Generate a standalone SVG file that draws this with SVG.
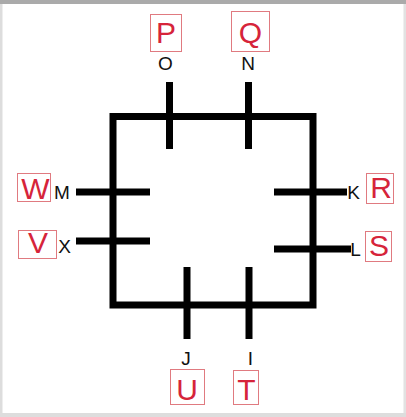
<svg xmlns="http://www.w3.org/2000/svg" width="406" height="417" viewBox="0 0 406 417">
<style>
.ln{stroke:#000;stroke-width:7;fill:none}
.bx{fill:#fff;stroke:#e07a80;stroke-width:1}
.rd{font-family:"Liberation Sans",Arial,sans-serif;font-size:30px;fill:#d6243a;text-anchor:middle}
.bk{font-family:"Liberation Sans",Arial,sans-serif;font-size:19px;fill:#111;text-anchor:middle}
</style>
<rect x="0" y="0" width="406" height="417" fill="#fff"/>
<rect x="0" y="0" width="406" height="4" fill="#aaa"/>
<rect x="0" y="4" width="2.5" height="413" fill="#ddd"/>
<rect x="403.5" y="4" width="2.5" height="413" fill="#e2e2e2"/>
<rect x="0" y="413" width="406" height="4" fill="#ddd"/>
<g id="connectors">
<rect class="ln" x="113" y="116.5" width="200" height="188.5"/>
<line class="ln" x1="169.5" y1="82" x2="169.5" y2="149"/>
<line class="ln" x1="248.5" y1="82" x2="248.5" y2="149"/>
<line class="ln" x1="76" y1="192" x2="150" y2="192"/>
<line class="ln" x1="76" y1="241" x2="150" y2="241"/>
<line class="ln" x1="274" y1="192" x2="347" y2="192"/>
<line class="ln" x1="274" y1="249" x2="351" y2="249"/>
<line class="ln" x1="187" y1="267" x2="187" y2="339"/>
<line class="ln" x1="249" y1="267" x2="249" y2="339"/>
</g>
<g id="node-P"><rect class="bx" x="150.5" y="14.5" width="31" height="37"/><text class="rd" x="166" y="43">P</text></g>
<g id="node-Q"><rect class="bx" x="231.5" y="11.5" width="38" height="40"/><text class="rd" x="250.5" y="43">Q</text></g>
<g id="node-O"><text class="bk" x="165.5" y="70">O</text></g>
<g id="node-N"><text class="bk" x="248" y="70">N</text></g>
<g id="node-W"><rect class="bx" x="17.5" y="173.5" width="33" height="28"/><text class="rd" x="35.5" y="199">W</text></g>
<g id="node-M"><text class="bk" x="62" y="199">M</text></g>
<g id="node-V"><rect class="bx" x="18.5" y="230.5" width="38" height="28"/><text class="rd" x="38" y="253">V</text></g>
<g id="node-X"><text class="bk" x="64.5" y="253">X</text></g>
<g id="node-K"><text class="bk" x="353.5" y="199">K</text></g>
<g id="node-R"><rect class="bx" x="366.5" y="173.5" width="27" height="30"/><text class="rd" x="381" y="198">R</text></g>
<g id="node-L"><text class="bk" x="355.5" y="256">L</text></g>
<g id="node-S"><rect class="bx" x="365.5" y="231.5" width="26" height="30"/><text class="rd" x="379" y="256">S</text></g>
<g id="node-J"><text class="bk" x="186" y="365">J</text></g>
<g id="node-I"><text class="bk" x="250.5" y="365">I</text></g>
<g id="node-U"><rect class="bx" x="170.5" y="369.5" width="34" height="35"/><text class="rd" x="187" y="400">U</text></g>
<g id="node-T"><rect class="bx" x="233.5" y="370.5" width="25" height="34"/><text class="rd" x="246.5" y="400">T</text></g>
</svg>
